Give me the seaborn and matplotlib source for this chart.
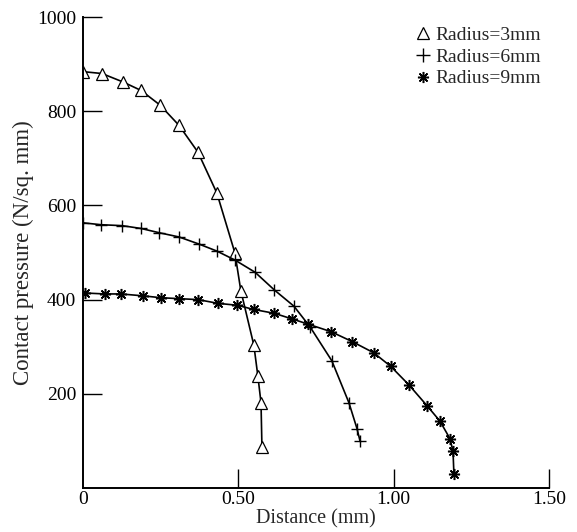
import matplotlib
matplotlib.use("Agg")
import matplotlib.pyplot as plt
from matplotlib.lines import Line2D
import seaborn as sns
import pandas as pd

# values
r3_x = [0.0, 0.061, 0.129, 0.187, 0.248, 0.309, 0.370, 0.431, 0.489, 0.508, 0.550, 0.563, 0.573, 0.576]
r3_y = [884, 880, 862, 844, 813, 770, 713, 626, 499, 419, 303, 237, 181, 87]

r6_x = [0.0, 0.058, 0.126, 0.187, 0.245, 0.309, 0.373, 0.431, 0.489, 0.554, 0.615, 0.679, 0.731,
        0.801, 0.856, 0.882, 0.892]
r6_y = [563, 559, 557, 551, 542, 533, 518, 503, 484, 458, 421, 386, 342, 270, 181, 126, 99]

r9_x = [0.006, 0.071, 0.122, 0.193, 0.251, 0.309, 0.370, 0.435, 0.496, 0.550, 0.615, 0.673, 0.724,
        0.798, 0.866, 0.936, 0.991, 1.049, 1.107, 1.149, 1.181, 1.191, 1.194]
r9_y = [414, 412, 412, 408, 404, 402, 400, 392, 388, 379, 371, 359, 348, 332, 311, 287, 258, 219,
        175, 142, 105, 78, 29]

labels = ["Radius=3mm", "Radius=6mm", "Radius=9mm"]
x_ticks = [0, 0.5, 1.0, 1.5]
x_ticklabels = ["0", "0.50", "1.00", "1.50"]
y_ticks = [200, 400, 600, 800, 1000]

sns.set_theme(style="ticks")
plt.rcParams["font.family"] = ["Liberation Serif", "DejaVu Serif"]

fig = plt.figure(figsize=(5.77, 5.32), dpi=100)
ax = fig.add_axes([83 / 577, 44 / 532, 466 / 577, 471 / 532])

df3 = pd.DataFrame({"x": r3_x, "y": r3_y})
df6 = pd.DataFrame({"x": r6_x, "y": r6_y})
df9 = pd.DataFrame({"x": r9_x, "y": r9_y})

sns.lineplot(data=df3, x="x", y="y", ax=ax, color="black", lw=1.2, marker="^",
             markersize=9, mfc="white", markeredgecolor="black", mew=0.9)
sns.lineplot(data=df6, x="x", y="y", ax=ax, color="black", lw=1.2, marker="+",
             markersize=9, markeredgecolor="black", mew=1.0)
sns.lineplot(data=df9, x="x", y="y", ax=ax, color="black", lw=1.2, marker=(8, 2, 0),
             markersize=8, markeredgecolor="black", mew=1.1)

ax.set_xlim(0, 1.5)
ax.set_ylim(0, 1000)
ax.set_xticks(x_ticks)
ax.set_xticklabels(x_ticklabels)
ax.set_yticks(y_ticks)
ax.tick_params(axis="both", direction="in", length=14, width=1.0, labelsize=14, colors="black")
ax.tick_params(axis="x", pad=2)
ax.tick_params(axis="y", pad=5)
ax.xaxis.get_major_ticks()[0].tick1line.set_visible(False)
for s in ["top", "right"]:
    ax.spines[s].set_visible(False)
for s in ["left", "bottom"]:
    ax.spines[s].set_linewidth(1.4)
    ax.spines[s].set_color("black")

ax.set_xlabel("Distance (mm)", fontsize=14.5, labelpad=1)
ax.set_ylabel("Contact pressure (N/sq. mm)", fontsize=16.5, labelpad=2)

handles = [
    Line2D([], [], ls="none", marker="^", mfc="white", mec="black", ms=8, mew=0.9),
    Line2D([], [], ls="none", marker="+", mec="black", ms=10, mew=1.0),
    Line2D([], [], ls="none", marker=(8, 2, 0), mec="black", ms=8, mew=1.1),
]
ax.legend(handles, labels, loc="upper left", bbox_to_anchor=(416 / 577, 1 - 26 / 532),
          bbox_transform=fig.transFigure, frameon=False, fontsize=14,
          handlelength=0.7, handletextpad=0.3, labelspacing=0.22, borderaxespad=0,
          borderpad=0)

fig.savefig("out.png", dpi=100)
